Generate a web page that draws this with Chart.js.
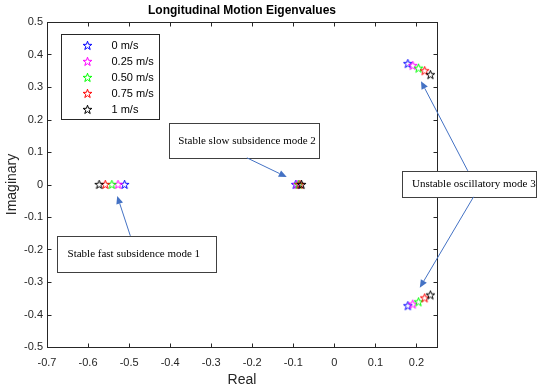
<!DOCTYPE html>
<html>
<head>
<meta charset="utf-8">
<script src="https://cdn.jsdelivr.net/npm/chart.js@4"></script>
<style>
  html, body { margin: 0; padding: 0; background: #fff; }
  canvas { display: block; }
</style>
</head>
<body>
<canvas id="eig" width="550" height="391"></canvas>
<script>
// forward speeds (one marker colour each)
var speeds = ['0 m/s', '0.25 m/s', '0.50 m/s', '0.75 m/s', '1 m/s'];
var speedColors = ['#0000ff', '#ff00ff', '#00ff00', '#ff0000', '#000000'];

// eigenvalues, one entry per speed
var mode1Real = [-0.511, -0.527, -0.542, -0.558, -0.573];
var mode2Real = [-0.094, -0.091, -0.087, -0.084, -0.080];
var mode3Real = [0.179, 0.191, 0.205, 0.220, 0.234];
var mode3ImagUpper = [0.372, 0.366, 0.358, 0.350, 0.338];
var mode3ImagLower = [-0.373, -0.368, -0.361, -0.349, -0.340];

var xTicks = [-0.7, -0.6, -0.5, -0.4, -0.3, -0.2, -0.1, 0, 0.1, 0.2];
var yTicks = [-0.5, -0.4, -0.3, -0.2, -0.1, 0, 0.1, 0.2, 0.3, 0.4, 0.5];

// text boxes pasted on the figure, in data units
var notes = [
  { text: 'Stable fast subsidence mode 1', box: [-0.675, -0.158, -0.288, -0.268], textX: -0.650,
    arrows: [[-0.497, -0.158, -0.529, -0.035]] },
  { text: 'Stable slow subsidence mode 2', box: [-0.402, 0.189, -0.037, 0.082], textX: -0.380,
    arrows: [[-0.213, 0.082, -0.116, 0.023]] },
  { text: 'Unstable oscillatory mode 3', box: [0.164, 0.042, 0.490, -0.038], textX: 0.189,
    arrows: [[0.325, 0.042, 0.211, 0.318], [0.339, -0.038, 0.208, -0.318]] }
];

var sans = "'Liberation Sans', Arial, Helvetica, sans-serif";
var serif = "'Liberation Serif', 'Times New Roman', serif";
var axisColor = '#262626';

function starImage(color) {
  var c = document.createElement('canvas');
  c.width = 11; c.height = 11;
  var g = c.getContext('2d');
  var R = 4.6, r = R * 0.4;
  g.beginPath();
  for (var k = 0; k < 10; k++) {
    var rad = k % 2 ? r : R;
    var ang = -Math.PI / 2 + k * Math.PI / 5;
    g.lineTo(5.5 + rad * Math.cos(ang), 5.8 + rad * Math.sin(ang));
  }
  g.closePath();
  g.strokeStyle = color;
  g.lineWidth = 1;
  g.stroke();
  return c;
}

var starImgs = speedColors.map(starImage);

var datasets = speeds.map(function(lbl, i) {
  return {
    label: lbl,
    data: [
      { x: mode1Real[i], y: 0 },
      { x: mode2Real[i], y: 0 },
      { x: mode3Real[i], y: mode3ImagUpper[i] },
      { x: mode3Real[i], y: mode3ImagLower[i] }
    ],
    pointStyle: starImgs[i],
    borderColor: speedColors[i],
    backgroundColor: speedColors[i],
    order: speeds.length - 1 - i
  };
});

function fmt(v) { return String(+v.toFixed(1)); }

function drawArrow(ctx, x0, y0, x1, y1) {
  var ang = Math.atan2(y1 - y0, x1 - x0);
  var len = 8, hw = 3.5;
  var bx = x1 - len * Math.cos(ang), by = y1 - len * Math.sin(ang);
  ctx.beginPath();
  ctx.moveTo(x0, y0);
  ctx.lineTo(bx, by);
  ctx.stroke();
  ctx.beginPath();
  ctx.moveTo(x1, y1);
  ctx.lineTo(bx + hw * Math.sin(ang), by - hw * Math.cos(ang));
  ctx.lineTo(bx - hw * Math.sin(ang), by + hw * Math.cos(ang));
  ctx.closePath();
  ctx.fill();
}

var decor = {
  id: 'decor',
  afterDraw: function(chart) {
    var ctx = chart.ctx, a = chart.chartArea;
    var sx = chart.scales.x, sy = chart.scales.y;
    var L = Math.round(a.left) + 0.5, R = Math.round(a.right) + 0.5;
    var T = Math.round(a.top) + 0.5, B = Math.round(a.bottom) + 0.5;
    ctx.save();

    // box + inward ticks
    ctx.strokeStyle = axisColor;
    ctx.lineWidth = 1;
    ctx.strokeRect(L, T, R - L, B - T);
    ctx.beginPath();
    xTicks.forEach(function(v) {
      var px = Math.round(sx.getPixelForValue(v)) + 0.5;
      ctx.moveTo(px, B); ctx.lineTo(px, B - 4);
      ctx.moveTo(px, T); ctx.lineTo(px, T + 4);
    });
    yTicks.forEach(function(v) {
      var py = Math.round(sy.getPixelForValue(v)) + 0.5;
      ctx.moveTo(L, py); ctx.lineTo(L + 4, py);
      ctx.moveTo(R, py); ctx.lineTo(R - 4, py);
    });
    ctx.stroke();

    // title
    ctx.fillStyle = '#000';
    ctx.font = 'bold 12px ' + sans;
    ctx.textAlign = 'center';
    ctx.textBaseline = 'middle';
    ctx.fillText('Longitudinal Motion Eigenvalues', (a.left + a.right) / 2, 11);

    // legend
    var lx = L + 14, ly = T + 12;
    ctx.fillStyle = '#fff';
    ctx.fillRect(lx, ly, 98, 85);
    ctx.strokeStyle = axisColor;
    ctx.strokeRect(lx, ly, 98, 85);
    ctx.font = '11px ' + sans;
    ctx.textAlign = 'left';
    ctx.fillStyle = '#000';
    speeds.forEach(function(lbl, i) {
      var cy = ly + 11 + i * 16;
      ctx.drawImage(starImgs[i], lx + 26 - 5.5, cy - 5.5);
      ctx.fillText(lbl, lx + 50, cy);
    });

    // annotation boxes and arrows
    notes.forEach(function(n) {
      var x0 = Math.round(sx.getPixelForValue(n.box[0])) + 0.5;
      var y0 = Math.round(sy.getPixelForValue(n.box[1])) + 0.5;
      var x1 = Math.round(sx.getPixelForValue(n.box[2])) + 0.5;
      var y1 = Math.round(sy.getPixelForValue(n.box[3])) + 0.5;
      ctx.fillStyle = '#fff';
      ctx.fillRect(x0, y0, x1 - x0, y1 - y0);
      ctx.strokeStyle = '#404040';
      ctx.strokeRect(x0, y0, x1 - x0, y1 - y0);
      ctx.fillStyle = '#000';
      ctx.font = '11px ' + serif;
      ctx.textAlign = 'left';
      ctx.textBaseline = 'middle';
      ctx.fillText(n.text, sx.getPixelForValue(n.textX), (y0 + y1) / 2);
      ctx.strokeStyle = '#4472c4';
      ctx.fillStyle = '#4472c4';
      n.arrows.forEach(function(ar) {
        drawArrow(ctx, sx.getPixelForValue(ar[0]), sy.getPixelForValue(ar[1]),
                  sx.getPixelForValue(ar[2]), sy.getPixelForValue(ar[3]));
      });
    });
    ctx.restore();
  }
};

new Chart(document.getElementById('eig').getContext('2d'), {
  type: 'scatter',
  data: { datasets: datasets },
  options: {
    responsive: false,
    animation: false,
    events: [],
    layout: { padding: { left: 0, right: 113, top: 22, bottom: 0 } },
    plugins: { legend: { display: false }, tooltip: { enabled: false } },
    scales: {
      x: {
        type: 'linear', min: -0.7, max: 0.25,
        afterBuildTicks: function(s) { s.ticks = xTicks.map(function(v) { return { value: v }; }); },
        afterFit: function(s) { s.height = 44; },
        grid: { display: false, drawTicks: false },
        border: { display: false },
        ticks: { color: axisColor, padding: 9, autoSkip: false, maxRotation: 0,
                 font: { family: sans, size: 11 }, callback: fmt },
        title: { display: true, text: 'Real', color: axisColor,
                 font: { family: sans, size: 14 }, padding: { top: 0, bottom: 2 } }
      },
      y: {
        type: 'linear', min: -0.5, max: 0.5,
        afterBuildTicks: function(s) { s.ticks = yTicks.map(function(v) { return { value: v }; }); },
        afterFit: function(s) { s.width = 47; },
        grid: { display: false, drawTicks: false },
        border: { display: false },
        ticks: { color: axisColor, padding: 4, autoSkip: false,
                 font: { family: sans, size: 11 }, callback: fmt },
        title: { display: true, text: 'Imaginary', color: axisColor,
                 font: { family: sans, size: 14 }, padding: { top: 4, bottom: 0 } }
      }
    }
  },
  plugins: [decor]
});
</script>
</body>
</html>
